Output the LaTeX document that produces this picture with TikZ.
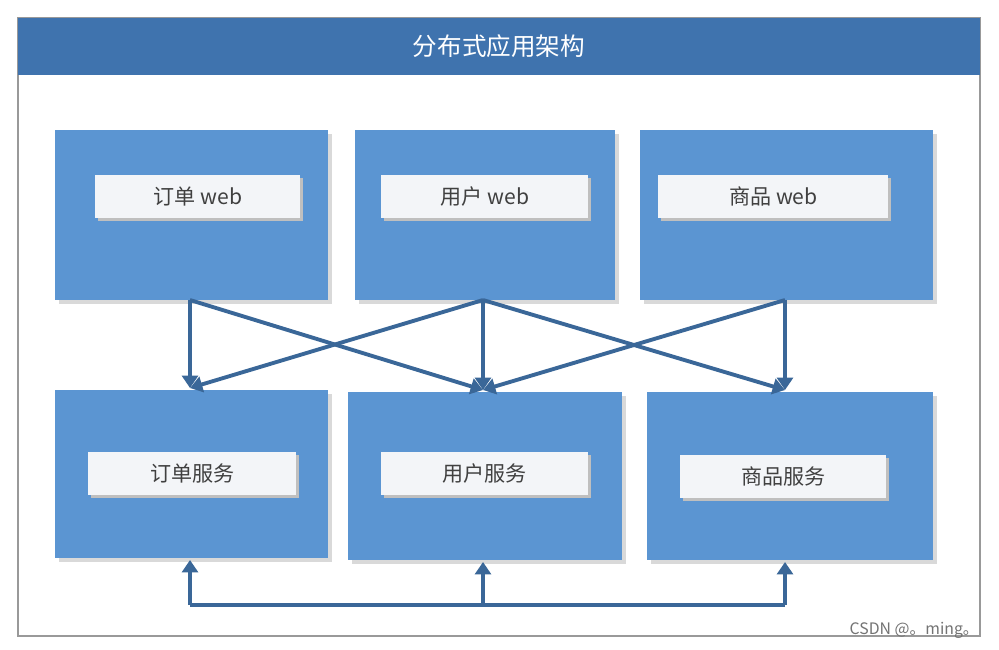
\documentclass[tikz,border=0pt]{standalone}
\usepackage{fontspec}
\newfontfamily\cjk{Noto Sans CJK SC}
\usetikzlibrary{arrows.meta}
\definecolor{bar}{HTML}{3F73AE}
\definecolor{box}{HTML}{5B95D2}
\definecolor{arr}{HTML}{3A6798}
\definecolor{lab}{HTML}{F3F5F8}
\begin{document}
\begin{tikzpicture}[x=0.02cm,y=-0.02cm,
  big/.style={draw=none,fill=box,inner sep=0,anchor=north west},
  lbl/.style={fill=lab,inner sep=0,font=\cjk\fontsize{12}{12}\selectfont,text=black!75,drop shadow/.style={}},
  ar/.style={draw=arr,line width=2.2pt,-{Triangle[length=7pt,width=9pt]}},
  ln/.style={draw=arr,line width=2.2pt}]
\useasboundingbox (0,0) rectangle (999,649);
\fill[white] (0,0) rectangle (999,649);
\draw[black!40,line width=1pt,fill=white] (18,18) rectangle (980,636);
\fill[bar] (18,18) rectangle (980,75);
\node[text=white,font=\cjk\fontsize{14}{14}\selectfont] (title) at (499,46) {分布式应用架构};
% top boxes
\foreach \n/\x/\y/\w/\h in {t1/55/130/273/170, t2/355/130/260/170, t3/640/130/293/170,
  b1/55/390/273/168, b2/348/392/274/168, b3/647/392/286/168}{
  \fill[black!15] (\x+4,\y+4) rectangle (\x+\w+4,\y+\h+4);
  \node[big,minimum width=\w*0.02cm,minimum height=\h*0.02cm] (\n) at (\x,\y) {};
}
\foreach \n/\x/\y/\w/\t in {l1/95/175/205/订单 web, l2/381/175/207/用户 web, l3/658/175/230/商品 web,
  l4/88/452/208/订单服务, l5/381/452/207/用户服务, l6/680/455/206/商品服务}{
  \fill[black!25] (\x+3,\y+3) rectangle (\x+\w+3,\y+46);
  \node[lbl,minimum width=\w*0.02cm,minimum height=0.86cm,anchor=north west] (\n) at (\x,\y) {\t};
}
% anchors
\coordinate (s1) at (190,300); \coordinate (s2) at (483,300); \coordinate (s3) at (785,300);
\coordinate (e1) at (190,388); \coordinate (e2) at (483,390); \coordinate (e3) at (785,390);
\draw[ar] (s1) -- (e1);
\draw[ar] (s1) -- (e2);
\draw[ar] (s2) -- (e1);
\draw[ar] (s2) -- (e2);
\draw[ar] (s2) -- (e3);
\draw[ar] (s3) -- (e3);
\draw[ar] (s3) -- (e2);
% bottom bus
\coordinate (u1) at (190,605); \coordinate (u2) at (483,605); \coordinate (u3) at (785,605);
\coordinate (v1) at (190,560); \coordinate (v2) at (483,562); \coordinate (v3) at (785,562);
\draw[ln] (u1) -- (u3);
\draw[ar] (u1) -- (v1);
\draw[ar] (u2) -- (v2);
\draw[ar] (u3) -- (v3);
\node[text=black!55,font=\cjk\fontsize{9}{9}\selectfont,anchor=east] (wm) at (985,630) {CSDN @。ming。};
\end{tikzpicture}
\end{document}
